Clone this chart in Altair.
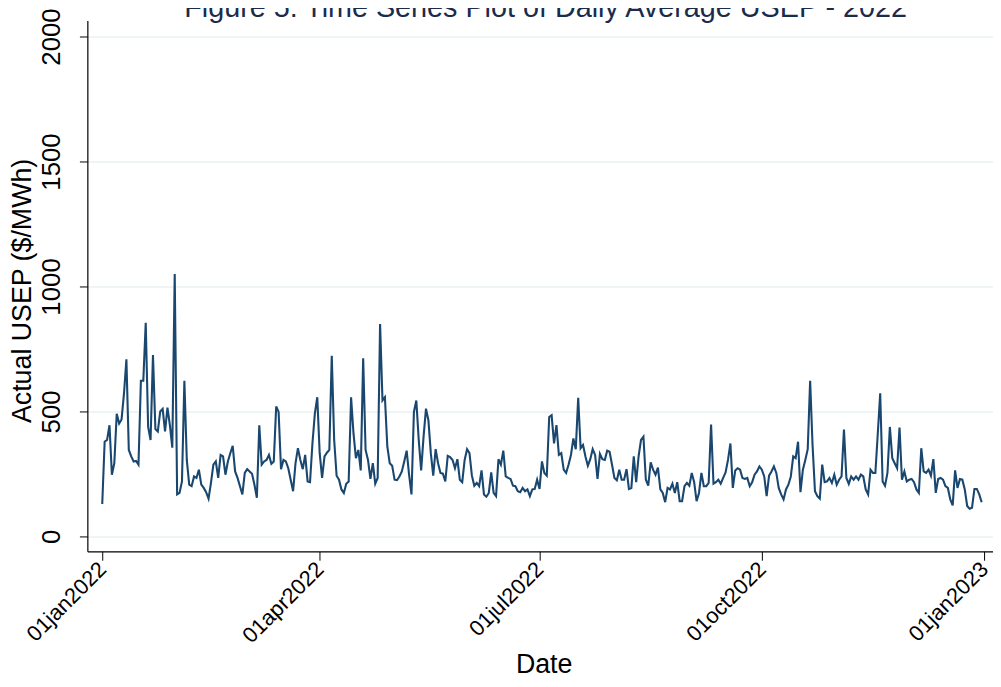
import altair as alt
import pandas as pd

title_text = "Figure 5: Time Series Plot of Daily Average USEP - 2022"

jan = [130, 379, 386, 445, 247, 293, 491, 452, 468, 571, 709, 346, 320, 300, 302, 287,
       623, 623, 855, 438, 386, 726, 430, 420, 500, 510, 420, 515, 445, 355, 1050]
feb = [168, 174, 220, 623, 306, 207, 201, 240, 234, 267, 207, 194, 177, 151, 214, 287,
       300, 234, 326, 320, 247, 300, 333, 362, 260, 234, 201, 168]
mar = [254, 269, 260, 251, 207, 155, 445, 287, 300, 306, 326, 291, 300, 520, 498, 269,
       306, 300, 273, 227, 181, 293, 353, 306, 269, 326, 220, 217, 372, 491, 557]
apr = [333, 234, 320, 335, 346, 723, 386, 243, 227, 188, 174, 211, 220, 557, 412, 313,
       346, 264, 713, 346, 306, 230, 293, 211, 234, 850, 544, 557, 359, 293]
may = [283, 227, 225, 240, 260, 300, 343, 247, 168, 498, 544, 386, 264, 399, 511, 465,
       333, 243, 349, 293, 254, 251, 220, 322, 317, 306, 273, 309, 227, 217, 306]
jun = [349, 333, 243, 203, 214, 201, 264, 168, 159, 174, 256, 174, 161, 309, 287, 343,
       240, 234, 230, 203, 201, 181, 177, 194, 181, 188, 161, 188, 190, 227]
jul = [190, 300, 254, 243, 478, 485, 372, 445, 326, 333, 267, 254, 287, 326, 392, 349,
       555, 353, 366, 320, 283, 309, 349, 326, 230, 330, 309, 306, 343, 339, 287]
aug = [234, 225, 267, 227, 227, 269, 190, 194, 320, 217, 320, 386, 399, 227, 203, 296,
       267, 247, 275, 188, 174, 137, 194, 188, 211, 174, 217, 141, 141, 201, 214]
sep = [203, 254, 217, 141, 174, 254, 201, 201, 214, 448, 211, 217, 227, 211, 234, 256,
       306, 372, 194, 264, 273, 267, 234, 230, 234, 201, 217, 247, 260, 280]
oct_ = [267, 240, 161, 243, 260, 280, 254, 194, 168, 148, 188, 207, 240, 320, 313, 379,
        177, 267, 306, 349, 623, 366, 181, 161, 151, 287, 217, 220, 234, 214, 247]
nov = [207, 227, 240, 428, 234, 210, 240, 227, 240, 227, 247, 240, 188, 168, 267, 254,
       254, 412, 573, 220, 203, 254, 438, 313, 293, 273, 436, 227, 260, 220]
dec = [227, 230, 217, 188, 174, 353, 260, 254, 267, 243, 309, 174, 230, 234, 227, 201,
       194, 148, 124, 264, 194, 230, 227, 188, 122, 111, 115, 190, 190, 168, 137]

y_ticks = [0, 500, 1000, 1500, 2000]
x_tick_dates = ["2022-01-01", "2022-04-01", "2022-07-01", "2022-10-01", "2023-01-01"]
x_tick_labels = ["01jan2022", "01apr2022", "01jul2022", "01oct2022", "01jan2023"]

values = jan + feb + mar + apr + may + jun + jul + aug + sep + oct_ + nov + dec
dates = pd.date_range("2022-01-01", periods=len(values), freq="D").strftime("%Y-%m-%d")
df = pd.DataFrame({"date": list(dates), "usep": values})


def dt(s, hours=0, minutes=0):
    t = pd.Timestamp(s)
    return alt.DateTime(year=t.year, month=t.month, date=t.day, hours=hours,
                        minutes=minutes, utc=True)


label_expr = ""
for d, lab in zip(x_tick_dates, x_tick_labels):
    label_expr += f"utcFormat(datum.value, '%Y-%m-%d') == '{d}' ? '{lab}' : "
label_expr += "''"

FONT = "Liberation Sans"
NAVY = "#1a476f"

x_axis = alt.Axis(
    values=[dt(d) for d in x_tick_dates],
    labelExpr=label_expr,
    labelAngle=315,
    labelAlign="right",
    labelBaseline="middle",
    labelPadding=5,
    labelFontSize=22,
    labelColor="black",
    labelFont=FONT,
    tickSize=9,
    tickColor="black",
    tickWidth=1,
    domainColor="black",
    domainWidth=1.2,
    grid=False,
    title="Date",
    titleFont=FONT,
    titleFontSize=27,
    titleFontWeight="normal",
    titleColor="black",
    titleBaseline="alphabetic",
    titleY=122,
    titleX=460,
)

y_axis = alt.Axis(
    values=y_ticks,
    format="d",
    labelAngle=270,
    labelAlign="center",
    labelBaseline="alphabetic",
    labelPadding=20,
    labelFontSize=26,
    labelColor="black",
    labelFont=FONT,
    tickSize=8,
    tickColor="black",
    tickWidth=1,
    domainColor="black",
    domainWidth=1.2,
    grid=True,
    gridColor="#eaf2f3",
    gridWidth=1.5,
    title="Actual USEP ($/MWh)",
    titleFont=FONT,
    titleFontSize=27,
    titleFontWeight="normal",
    titleColor="black",
    titleAngle=270,
    titleAlign="center",
    titleBaseline="alphabetic",
    titleX=-57,
    titleY=272,
)

line = alt.Chart(df).mark_line(color=NAVY, strokeWidth=2.1).encode(
    x=alt.X("date:T", axis=x_axis,
            scale=alt.Scale(type="utc",
                            domain=[dt("2021-12-25", 20, 10), dt("2023-01-04", 16, 30)])),
    y=alt.Y("usep:Q", axis=y_axis, scale=alt.Scale(domain=[-59.5, 2063.5], nice=False, zero=False)),
)

title_df = pd.DataFrame({"t": [title_text]})
title = alt.Chart(title_df).mark_text(
    font=FONT, fontSize=29, color="#1a2b4c", align="center", baseline="alphabetic"
).encode(text="t:N", x=alt.value(462), y=alt.value(-4))

chart = alt.layer(line, title).properties(
    width=913,
    height=535,
    padding={"left": 80, "top": 10, "right": 0, "bottom": 125},
    autosize=alt.AutoSizeParams(type="none"),
    background="white",
).configure_view(stroke=None)

chart.save("out.html", embed_options={"renderer": "svg", "actions": False})
